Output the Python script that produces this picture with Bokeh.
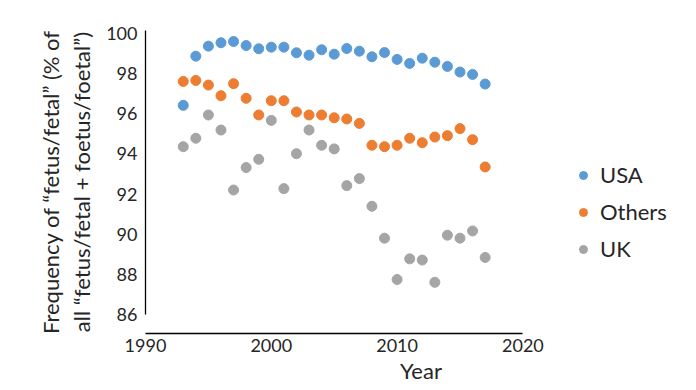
from bokeh.plotting import figure
from bokeh.models import FixedTicker, Legend, LegendItem, Range1d
from bokeh.embed import file_html
from bokeh.resources import INLINE

years = list(range(1993, 2018))
usa = [96.42, 98.87, 99.37, 99.54, 99.60, 99.40, 99.24, 99.32, 99.32, 99.04, 98.92, 99.19, 98.97,
       99.25, 99.12, 98.84, 99.05, 98.71, 98.51, 98.77, 98.57, 98.36, 98.08, 97.96, 97.48]
others = [97.61, 97.66, 97.43, 96.90, 97.50, 96.77, 95.94, 96.65, 96.65, 96.09, 95.94, 95.94, 95.80,
          95.74, 95.52, 94.43, 94.36, 94.43, 94.78, 94.56, 94.84, 94.91, 95.26, 94.71, 93.35]
uk = [94.36, 94.78, 95.94, 95.19, 92.20, 93.32, 93.73, 95.67, 92.27, 94.01, 95.19, 94.43, 94.25,
      92.42, 92.77, 91.39, 89.80, 87.74, 88.77, 88.71, 87.60, 89.95, 89.80, 90.16, 88.84]

x_ticks = [1990, 2000, 2010, 2020]
y_ticks = [86, 88, 90, 92, 94, 96, 98, 100]

FONT = "Lato"
TXT = "#262626"

# frame extends to the right edge so the legend sits inside it; the x axis line stops at 2020
p = figure(width=696, height=390, output_backend="svg", toolbar_location=None,
           x_range=Range1d(1990, 2033.8), y_range=Range1d(85.05, 100.15),
           min_border_left=145, min_border_right=0, min_border_top=30, min_border_bottom=57)
p.outline_line_color = None
p.grid.grid_line_color = None
p.background_fill_color = "white"

r_usa = p.scatter(years, usa, size=10, color="#5B9BD5")
r_oth = p.scatter(years, others, size=10, color="#ED7D31")
r_uk = p.scatter(years, uk, size=10, color="#A5A5A5")

for ax in (p.xaxis[0], p.yaxis[0]):
    ax.axis_line_color = "#000000"
    ax.axis_line_width = 1.3
    ax.major_tick_out = 0
    ax.major_tick_in = 0
    ax.minor_tick_out = 0
    ax.minor_tick_in = 0
    ax.major_label_text_font = FONT
    ax.major_label_text_font_size = "18px"
    ax.major_label_text_color = TXT
    ax.axis_label_text_font = FONT
    ax.axis_label_text_font_size = "22px"
    ax.axis_label_text_font_style = "normal"
    ax.axis_label_text_color = TXT

p.xaxis.ticker = FixedTicker(ticks=x_ticks)
p.xaxis.bounds = (1990, 2020)
p.xaxis.major_label_standoff = 5
p.xaxis.axis_label = "Year"
p.xaxis.axis_label_standoff = 2

p.yaxis.ticker = FixedTicker(ticks=y_ticks)
p.yaxis.bounds = (86, 100.15)
p.yaxis.major_label_standoff = 8
p.yaxis.axis_label = "Frequency of \u201cfetus/fetal\u201d (% of\nall \u201cfetus/fetal + foetus/foetal\u201d)"
p.yaxis.axis_label_standoff = 8
p.yaxis.axis_label_text_line_height = 1.15

legend = Legend(items=[LegendItem(label="USA", renderers=[r_usa]),
                       LegendItem(label="Others", renderers=[r_oth]),
                       LegendItem(label="UK", renderers=[r_uk])],
                location=(428, 71), padding=0, margin=0, spacing=10,
                glyph_width=20, glyph_height=24, label_height=24, label_standoff=7,
                label_text_font=FONT, label_text_font_size="22px", label_text_color=TXT,
                border_line_color=None, background_fill_alpha=0)
p.add_layout(legend, "center")

open("out.html", "w").write(file_html(p, INLINE))
